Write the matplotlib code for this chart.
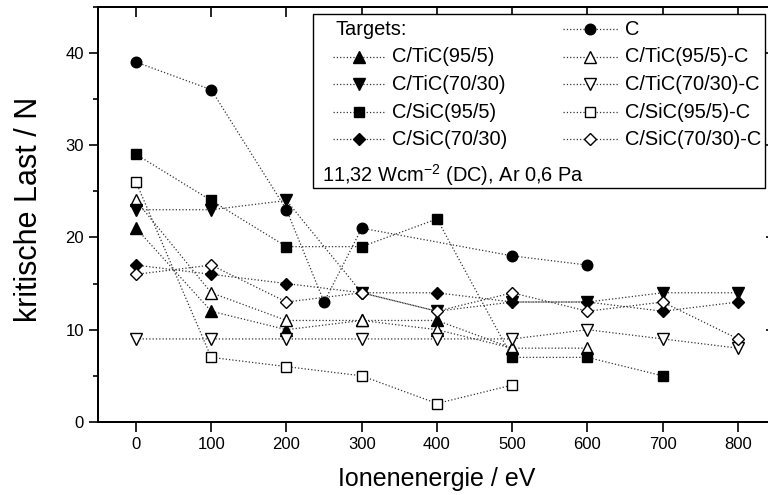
import matplotlib
matplotlib.use("Agg")
import matplotlib.pyplot as plt
from matplotlib.ticker import MultipleLocator
from matplotlib.patches import Rectangle
from matplotlib.lines import Line2D

plt.rcParams['font.family'] = ['Liberation Sans', 'DejaVu Sans']
plt.rcParams['mathtext.fontset'] = 'custom'
plt.rcParams['mathtext.rm'] = 'Liberation Sans'

# Ion energy (eV) and critical load (N) per target
energy_c = [0, 100, 200, 250, 300, 500, 600]
load_c = [39, 36, 23, 13, 21, 18, 17]

energy_tic95 = [0, 100, 200, 300, 400, 500]
load_tic95 = [21, 12, 10, 11, 11, 8]

energy_tic95c = [0, 100, 200, 300, 400, 500, 600]
load_tic95c = [24, 14, 11, 11, 10, 8, 8]

energy_tic70 = [0, 100, 200, 300, 400, 500, 600, 700, 800]
load_tic70 = [23, 23, 24, 14, 12, 13, 13, 14, 14]

energy_tic70c = [0, 100, 200, 300, 400, 500, 600, 700, 800]
load_tic70c = [9, 9, 9, 9, 9, 9, 10, 9, 8]

energy_sic95 = [0, 100, 200, 300, 400, 500, 600, 700]
load_sic95 = [29, 24, 19, 19, 22, 7, 7, 5]

energy_sic95c = [0, 100, 200, 300, 400, 500]
load_sic95c = [26, 7, 6, 5, 2, 4]

energy_sic70 = [0, 100, 200, 300, 400, 500, 600, 700, 800]
load_sic70 = [17, 16, 15, 14, 14, 13, 13, 12, 13]

energy_sic70c = [0, 100, 200, 300, 400, 500, 600, 700, 800]
load_sic70c = [16, 17, 13, 14, 12, 14, 12, 13, 9]

# (label, x, y, marker, filled)
series = [
    ("C", energy_c, load_c, "o", True),
    ("C/TiC(95/5)", energy_tic95, load_tic95, "^", True),
    ("C/TiC(95/5)-C", energy_tic95c, load_tic95c, "^", False),
    ("C/TiC(70/30)", energy_tic70, load_tic70, "v", True),
    ("C/TiC(70/30)-C", energy_tic70c, load_tic70c, "v", False),
    ("C/SiC(95/5)", energy_sic95, load_sic95, "s", True),
    ("C/SiC(95/5)-C", energy_sic95c, load_sic95c, "s", False),
    ("C/SiC(70/30)", energy_sic70, load_sic70, "D", True),
    ("C/SiC(70/30)-C", energy_sic70c, load_sic70c, "D", False),
]

marker_size = {"o": 7.6, "^": 8.2, "v": 8.2, "s": 7.0, "D": 6.2}

fig = plt.figure(figsize=(7.68, 4.95), dpi=100)
ax = fig.add_axes([0.1281, 0.1475, 0.8818, 0.8390])

line_kw = dict(color="#333333", linestyle=":", linewidth=0.9)


def style(marker, filled):
    return dict(marker=marker, markersize=marker_size[marker],
                markerfacecolor="black" if filled else "white",
                markeredgecolor="black", markeredgewidth=1.0)


for label, x, y, m, filled in series:
    ax.plot(x, y, **line_kw, **style(m, filled), label=label)

ax.set_xlim(-50, 850)
ax.set_ylim(0, 45)
ax.xaxis.set_major_locator(MultipleLocator(100))
ax.yaxis.set_major_locator(MultipleLocator(10))
ax.yaxis.set_minor_locator(MultipleLocator(5))

for s in ax.spines.values():
    s.set_linewidth(1.2)

ax.tick_params(axis="x", which="major", direction="out", length=7, width=1.2,
               labelsize=12, pad=3.5, top=False)
ax.tick_params(axis="y", which="major", direction="out", length=6.5, width=1.2,
               labelsize=12, pad=4, right=False)
ax.tick_params(axis="y", which="minor", direction="out", length=3.5, width=1.2,
               right=False)

# inward ticks on the top and right frame
top_ax = ax.twiny()
top_ax.set_xlim(ax.get_xlim())
top_ax.xaxis.set_major_locator(MultipleLocator(100))
top_ax.tick_params(axis="x", direction="in", length=7, width=1.2,
                   top=True, bottom=False, labeltop=False, labelbottom=False)
right_ax = ax.twinx()
right_ax.set_ylim(ax.get_ylim())
right_ax.yaxis.set_major_locator(MultipleLocator(10))
right_ax.yaxis.set_minor_locator(MultipleLocator(5))
right_ax.tick_params(axis="y", which="major", direction="in", length=7, width=1.2,
                     right=True, left=False, labelright=False, labelleft=False)
right_ax.tick_params(axis="y", which="minor", direction="in", length=3.5, width=1.2,
                     right=True, left=False)
for a in (top_ax, right_ax):
    a.patch.set_visible(False)
    for s in a.spines.values():
        s.set_linewidth(1.2)

ax.set_xlabel("Ionenenergie / eV", fontsize=18)
ax.set_ylabel("kritische Last / N", fontsize=22)
ax.xaxis.set_label_coords(0.5, -0.108)
ax.yaxis.set_label_coords(-0.080, 0.512)

# legend box, drawn on the topmost axes so it covers the inner ticks
leg_ax = right_ax
box = Rectangle((0.3169, 0.5635), 0.9844 - 0.3169, 0.9824 - 0.5635,
                transform=leg_ax.transAxes, facecolor="white", edgecolor="black",
                linewidth=1.0, zorder=5)
leg_ax.add_patch(box)

legend_fs = 14.4
row_y = [0.946, 0.879, 0.813, 0.746, 0.681]
col_handle = [(0.3464, 0.3848, 0.4232, 0.4335), (0.6860, 0.7259, 0.7673, 0.7776)]

leg_ax.text(0.3494, row_y[0], "Targets:", transform=leg_ax.transAxes,
            fontsize=legend_fs, va="center", ha="left", zorder=6)

legend_order = [0, 1, 3, 5, 7, 2, 4, 6, 8]
positions = [(1, 0), (0, 1), (0, 2), (0, 3), (0, 4), (1, 1), (1, 2), (1, 3), (1, 4)]
for idx, (col, row) in zip(legend_order, positions):
    label, x, y, m, filled = series[idx]
    x0, xm, x1, xt = col_handle[col]
    yy = row_y[row]
    leg_ax.add_line(Line2D([x0, x1], [yy, yy], transform=leg_ax.transAxes,
                           zorder=6, **line_kw))
    leg_ax.add_line(Line2D([xm], [yy], transform=leg_ax.transAxes, zorder=7,
                           linestyle="none", **style(m, filled)))
    leg_ax.text(xt, yy, label, transform=leg_ax.transAxes, fontsize=legend_fs,
                va="center", ha="left", zorder=6)

leg_ax.text(0.3302, 0.595, r"11,32 Wcm$^{\mathregular{-2}}$ (DC), Ar 0,6 Pa",
            transform=leg_ax.transAxes, fontsize=legend_fs, va="center",
            ha="left", zorder=6)

fig.savefig("out.png", dpi=100)
